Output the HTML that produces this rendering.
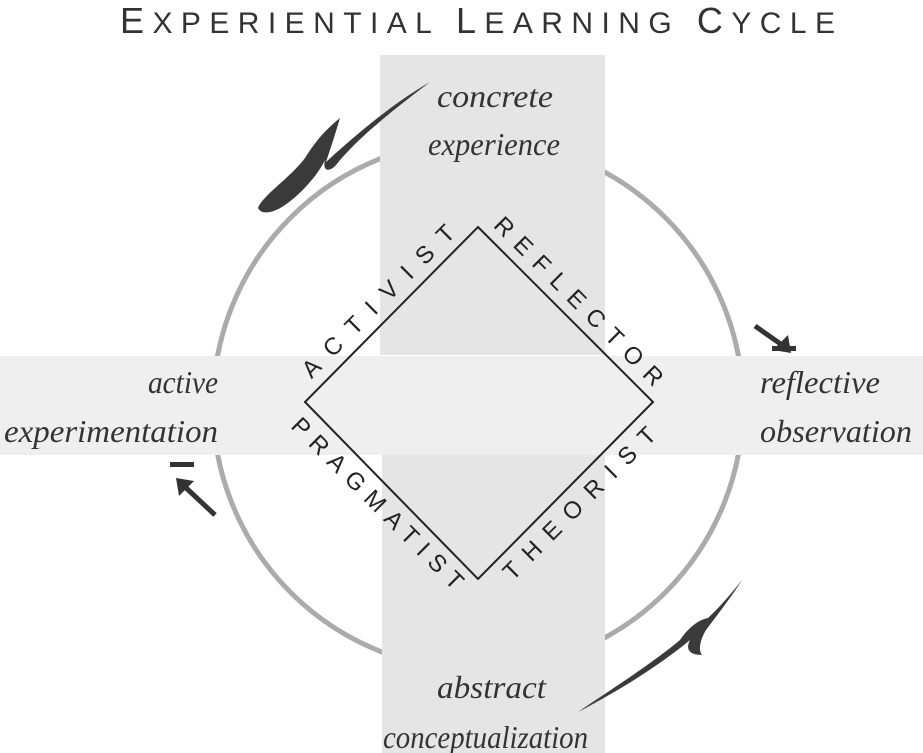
<!DOCTYPE html>
<html><head><meta charset="utf-8"><style>
html,body{margin:0;padding:0;background:#fff;}
svg{display:block;}
.it{font-family:"Liberation Serif",serif;font-style:italic;font-size:32px;fill:#333;}
.cap{font-family:"Liberation Sans",sans-serif;font-size:24px;fill:#222;}
</style></head><body>
<svg width="923" height="753" viewBox="0 0 923 753" xmlns="http://www.w3.org/2000/svg">
<rect width="923" height="753" fill="#fff"/>
<text x="120" y="33" font-family="Liberation Sans,sans-serif" font-size="30" fill="#333" textLength="715" lengthAdjust="spacing"><tspan font-size="36">E</tspan>XPERIENTIAL <tspan font-size="36">L</tspan>EARNING <tspan font-size="36">C</tspan>YCLE</text>
<circle cx="478" cy="405" r="265" fill="none" stroke="#ababab" stroke-width="5"/>
<rect x="380" y="55" width="225" height="300" fill="#e5e5e5"/>
<rect x="382" y="455" width="223" height="298" fill="#e5e5e5"/>
<rect x="0" y="356" width="923" height="99" fill="#efefef"/>
<polygon points="478,227 653,402 478,579 305,402" fill="none" stroke="#222" stroke-width="2"/>
<text class="it" x="437" y="107" textLength="116" lengthAdjust="spacingAndGlyphs">concrete</text>
<text class="it" x="428" y="155" textLength="132" lengthAdjust="spacingAndGlyphs">experience</text>
<text class="it" x="148" y="393" textLength="70" lengthAdjust="spacingAndGlyphs">active</text>
<text class="it" x="4" y="442" textLength="214" lengthAdjust="spacingAndGlyphs">experimentation</text>
<text class="it" x="760" y="393" textLength="120" lengthAdjust="spacingAndGlyphs">reflective</text>
<text class="it" x="760" y="442" textLength="152" lengthAdjust="spacingAndGlyphs">observation</text>
<text class="it" x="437" y="698" textLength="109" lengthAdjust="spacingAndGlyphs">abstract</text>
<text class="it" x="383" y="748" textLength="205" lengthAdjust="spacingAndGlyphs">conceptualization</text>
<g class="cap">
<text transform="translate(391,314) rotate(-45)" x="0" y="-10" text-anchor="middle" textLength="205" lengthAdjust="spacing">ACTIVIST</text>
<text transform="translate(566,314) rotate(45)" x="0" y="-10" text-anchor="middle" textLength="228" lengthAdjust="spacing">REFLECTOR</text>
<text transform="translate(566,490) rotate(-45)" x="0" y="27" text-anchor="middle" textLength="205" lengthAdjust="spacing">THEORIST</text>
<text transform="translate(391,490) rotate(45)" x="0" y="27" text-anchor="middle" textLength="232" lengthAdjust="spacing">PRAGMATIST</text>
</g>
<path d="M258,208 C262,196 290,178 305,158 C315,142 325,130 340,118 C335,135 330,150 326,162 C350,140 390,105 430,82 C400,105 360,135 336,165 C330,172 322,172 325,160 C318,175 300,195 285,205 C275,212 262,216 258,208 Z" fill="#3a3a3a"/>
<path d="M742,580 C732,596 718,614 706,630 C700,640 698,650 702,655 C690,655 685,650 690,640 C660,665 620,690 578,712 C610,690 650,665 680,640 C688,628 698,620 708,618 C722,605 734,590 742,580 Z" fill="#3a3a3a"/>
<path d="M755,326 L785,347" stroke="#333" stroke-width="5"/>
<polygon points="791,353 773,350 788,335" fill="#333"/>
<rect x="772" y="346" width="24" height="5" fill="#333"/>
<path d="M215,515 L183,485" stroke="#333" stroke-width="5"/>
<polygon points="176,478 194,481 179,496" fill="#333"/>
<rect x="170" y="462" width="24" height="5" fill="#333"/>
</svg>
</body></html>
